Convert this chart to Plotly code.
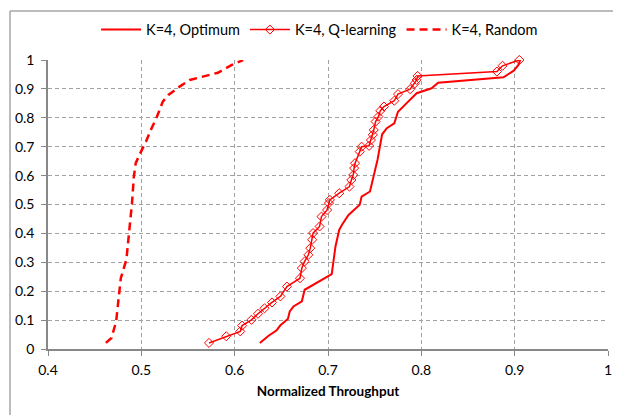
import plotly.graph_objects as go

opt_x = [0.627, 0.636, 0.645, 0.649, 0.657, 0.659, 0.663, 0.672, 0.675, 0.704, 0.708, 0.712, 0.715,
         0.722, 0.734, 0.736, 0.745, 0.749, 0.753, 0.758, 0.763, 0.771, 0.775, 0.784, 0.795,
         0.811, 0.818, 0.888, 0.899, 0.904, 0.906]
opt_y = [0.021, 0.045, 0.065, 0.082, 0.104, 0.130, 0.147, 0.165, 0.205, 0.259, 0.355, 0.412, 0.430,
         0.464, 0.499, 0.527, 0.545, 0.597, 0.654, 0.743, 0.764, 0.781, 0.821, 0.850, 0.885,
         0.902, 0.921, 0.940, 0.963, 0.983, 1.0]

q_x = [0.5725, 0.591, 0.606, 0.608, 0.618, 0.625, 0.632, 0.640, 0.649, 0.656, 0.670, 0.672, 0.675,
       0.679, 0.681, 0.683, 0.684, 0.691, 0.693, 0.699, 0.701, 0.702, 0.712, 0.723, 0.725, 0.727,
       0.728, 0.729, 0.734, 0.736, 0.744, 0.746, 0.748, 0.749, 0.751, 0.754, 0.756, 0.760, 0.771,
       0.775, 0.788, 0.793, 0.795, 0.796, 0.881, 0.887, 0.905]
q_y = [0.021, 0.044, 0.061, 0.081, 0.101, 0.122, 0.141, 0.161, 0.182, 0.216, 0.245, 0.280, 0.303,
       0.326, 0.349, 0.378, 0.401, 0.424, 0.458, 0.481, 0.505, 0.516, 0.539, 0.562, 0.585, 0.602,
       0.626, 0.643, 0.683, 0.700, 0.703, 0.723, 0.741, 0.758, 0.787, 0.804, 0.824, 0.839, 0.859,
       0.882, 0.899, 0.919, 0.931, 0.945, 0.960, 0.980, 1.0]

rnd_x = [0.462, 0.468, 0.473, 0.476, 0.478, 0.484, 0.487, 0.490, 0.492, 0.494, 0.498, 0.505, 0.511,
         0.516, 0.523, 0.529, 0.541, 0.552, 0.582, 0.597, 0.609]
rnd_y = [0.021, 0.038, 0.095, 0.190, 0.245, 0.310, 0.400, 0.505, 0.597, 0.643, 0.672, 0.718, 0.764,
         0.798, 0.856, 0.879, 0.908, 0.931, 0.956, 0.983, 1.0]

x_ticks = [0.4, 0.5, 0.6, 0.7, 0.8, 0.9, 1.0]
x_labels = ["0.4", "0.5", "0.6", "0.7", "0.8", "0.9", "1"]
y_ticks = [0, 0.1, 0.2, 0.3, 0.4, 0.5, 0.6, 0.7, 0.8, 0.9, 1.0]
y_labels = ["0", "0.1", "0.2", "0.3", "0.4", "0.5", "0.6", "0.7", "0.8", "0.9", "1"]

RED = "#ff0000"
fig = go.Figure()
fig.add_trace(go.Scatter(x=opt_x, y=opt_y, mode="lines", name="K=4, Optimum",
                         line=dict(color=RED, width=2), cliponaxis=False))
fig.add_trace(go.Scatter(x=q_x, y=q_y, mode="lines+markers", name="K=4, Q-learning",
                         line=dict(color=RED, width=1.5),
                         marker=dict(symbol="diamond-open", size=7, color=RED, line=dict(width=1, color=RED)),
                         cliponaxis=False))
fig.add_trace(go.Scatter(x=rnd_x, y=rnd_y, mode="lines", name="K=4, Random",
                         line=dict(color=RED, width=2.5, dash="8px,5px"), cliponaxis=False))

# page has an 8px body margin; figure is sized and offset to compensate
W, H = 613, 407
L, T = 40, 52
PW, PH = 560, 289
BX = (2 - L) / PW
BY = 1 + (T - 3) / PH
font = "Lato, 'Open Sans', Arial, sans-serif"
fig.update_layout(
    width=W, height=H,
    margin=dict(l=L, r=W - L - PW, t=T, b=H - T - PH, autoexpand=False),
    paper_bgcolor="white", plot_bgcolor="white",
    font=dict(family=font, size=14, color="#000000"),
    legend=dict(orientation="h", x=0.485, xanchor="center", y=1.105, yanchor="middle",
                font=dict(size=14.5), itemwidth=40, bgcolor="rgba(0,0,0,0)", traceorder="normal",
                tracegroupgap=0),
    shapes=[
        dict(type="line", xref="paper", yref="paper", x0=BX, x1=BX, y0=-0.3, y1=BY,
             line=dict(color="#a6a6a6", width=1.5)),
        dict(type="line", xref="paper", yref="paper", x0=BX, x1=1.2, y0=BY, y1=BY,
             line=dict(color="#a6a6a6", width=1.5)),
    ],
)
fig.update_xaxes(range=[0.4, 1.0], tickvals=x_ticks, ticktext=x_labels,
                 showgrid=True, gridcolor="#a0a0a0", griddash="4px,3px", gridwidth=1,
                 showline=True, linecolor="#888888", linewidth=1.5,
                 ticks="outside", ticklen=5, tickcolor="#888888", zeroline=False,
                 ticklabelstandoff=2,
                 title=dict(text="<b>Normalized Throughput</b>", font=dict(size=13.5), standoff=10))
fig.update_yaxes(range=[0, 1.0], tickvals=y_ticks, ticktext=y_labels,
                 showgrid=True, gridcolor="#a0a0a0", griddash="4px,3px", gridwidth=1,
                 showline=True, linecolor="#888888", linewidth=1.5,
                 ticks="outside", ticklen=5, tickcolor="#888888", zeroline=False,
                 ticklabelstandoff=4)
fig.write_html("out.html")
